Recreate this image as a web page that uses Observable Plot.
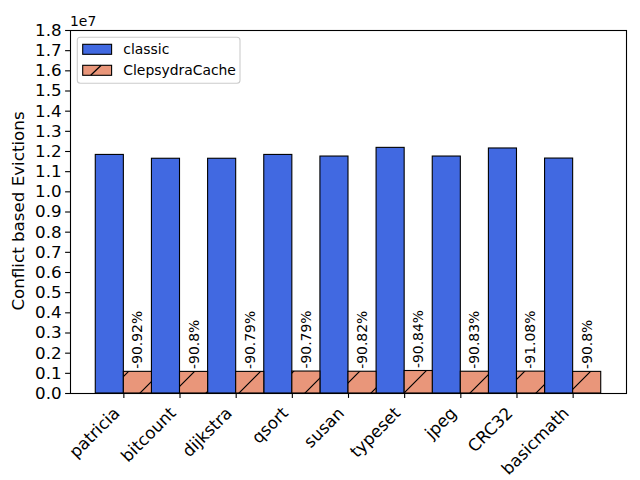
<!DOCTYPE html>
<html>
<head>
<meta charset="utf-8">
<script src="https://cdn.jsdelivr.net/npm/d3@7"></script>
<script src="https://cdn.jsdelivr.net/npm/@observablehq/plot@0.6"></script>
<style>
  html, body { margin: 0; padding: 0; background: white; }
  svg, svg text { font-family: "DejaVu Sans", sans-serif; }
</style>
</head>
<body>
<div id="chart"></div>
<script>
const categories = ["patricia", "bitcount", "dijkstra", "qsort", "susan", "typeset", "jpeg", "CRC32", "basicmath"];
const classic = [11830000, 11640000, 11640000, 11830000, 11750000, 12180000, 11750000, 12150000, 11650000];
const clepsydra = [1074000, 1071000, 1072000, 1089000, 1079000, 1116000, 1079000, 1084000, 1072000];
const percentLabels = ["-90.92%", "-90.8%", "-90.79%", "-90.79%", "-90.82%", "-90.84%", "-90.83%", "-91.08%", "-90.8%"];
const yTicks = [0, 1e6, 2e6, 3e6, 4e6, 5e6, 6e6, 7e6, 8e6, 9e6, 10e6, 11e6, 12e6, 13e6, 14e6, 15e6, 16e6, 17e6, 18e6];
const seriesNames = ["classic", "ClepsydraCache"];

const data = categories.map((c, i) => ({i, name: c, classic: classic[i], clepsydra: clepsydra[i], label: percentLabels[i]}));
const idx = categories.map((c, i) => i);

const BLUE = "#4169E1", SALMON = "#E9967A";
const FONT = "DejaVu Sans";
const TICK_FS = 16.7, SMALL_FS = 13.9;

const svg = Plot.plot({
  width: 640,
  height: 480,
  marginLeft: 70,
  marginRight: 14,
  marginTop: 30,
  marginBottom: 87,
  style: {fontFamily: FONT, fontSize: TICK_FS + "px", background: "white", color: "black"},
  x: {type: "linear", domain: [-0.95, 8.95]},
  y: {domain: [0, 18e6]},
  marks: [
    Plot.rectY(data, {x1: d => d.i - 0.5, x2: d => d.i, y: "classic", fill: BLUE, stroke: "black", strokeWidth: 1.1}),
    Plot.rectY(data, {x1: d => d.i, x2: d => d.i + 0.5, y: "clepsydra", fill: SALMON, stroke: "none"}),
    Plot.rectY(data, {x1: d => d.i, x2: d => d.i + 0.5, y: "clepsydra", fill: "url(#hatch)", stroke: "black", strokeWidth: 1.1}),
    Plot.text(data, {x: d => d.i + 0.25, y: "clepsydra", text: "label", rotate: -90, textAnchor: "start", dy: -3, fontSize: SMALL_FS, fontFamily: FONT, fill: "black"}),
    Plot.frame({stroke: "black", strokeWidth: 1.1}),
    Plot.axisY({ticks: yTicks, tickFormat: d => (d / 1e7).toFixed(1), tickSize: 4.9, tickPadding: 4, label: null, fontSize: TICK_FS, fontFamily: FONT, strokeWidth: 1.1}),
    Plot.axisX({ticks: idx, tickFormat: i => categories[i], tickRotate: -45, tickSize: 4.9, tickPadding: 4, label: null, fontSize: TICK_FS, fontFamily: FONT, strokeWidth: 1.1}),
  ]
});

const s = d3.select(svg);
// shift rotated x tick labels so their bounding box's top-right corner sits under the tick
s.selectAll("g[aria-label='x-axis tick label']").attr("transform", function() {
  const t = this.getAttribute("transform") || "";
  return t + " translate(-7,8)";
});

const defs = s.insert("defs", ":first-child");
const pat = defs.append("pattern").attr("id", "hatch").attr("patternUnits", "userSpaceOnUse")
  .attr("width", 33).attr("height", 33).attr("x", 5).attr("y", 0);
pat.append("path").attr("d", "M-2,2 L2,-2 M0,33 L33,0 M31,35 L35,31").attr("stroke", "black").attr("stroke-width", 1.2).attr("fill", "none");

// offset text
s.append("text").attr("x", 70).attr("y", 26).attr("text-anchor", "start").attr("font-family", FONT)
  .attr("font-size", SMALL_FS).attr("fill", "black").text("1e7");

// y label
s.append("text").attr("transform", "translate(24,211) rotate(-90)").attr("text-anchor", "middle").attr("font-family", FONT)
  .attr("font-size", TICK_FS).attr("fill", "black").text("Conflict based Evictions");

// legend
const lg = s.append("g").attr("font-family", FONT).attr("text-anchor", "start");
lg.append("rect").attr("x", 77.3).attr("y", 37.3).attr("width", 162.7).attr("height", 46).attr("rx", 3)
  .attr("fill", "white").attr("fill-opacity", 0.8).attr("stroke", "#cccccc").attr("stroke-width", 1.1);
lg.append("rect").attr("x", 82.7).attr("y", 44.3).attr("width", 28.9).attr("height", 10)
  .attr("fill", BLUE).attr("stroke", "black").attr("stroke-width", 1.1);
lg.append("rect").attr("x", 82.7).attr("y", 65.3).attr("width", 28.9).attr("height", 10)
  .attr("fill", SALMON).attr("stroke", "black").attr("stroke-width", 1.1);
lg.append("line").attr("x1", 90.7).attr("y1", 75.3).attr("x2", 101.2).attr("y2", 65.3).attr("stroke", "black").attr("stroke-width", 1.2);
lg.append("text").attr("x", 123.3).attr("y", 54.3).attr("font-size", SMALL_FS).attr("fill", "black").text(seriesNames[0]);
lg.append("text").attr("x", 123.3).attr("y", 75.3).attr("font-size", SMALL_FS).attr("fill", "black").text(seriesNames[1]);

document.getElementById("chart").appendChild(svg);
</script>
</body>
</html>
